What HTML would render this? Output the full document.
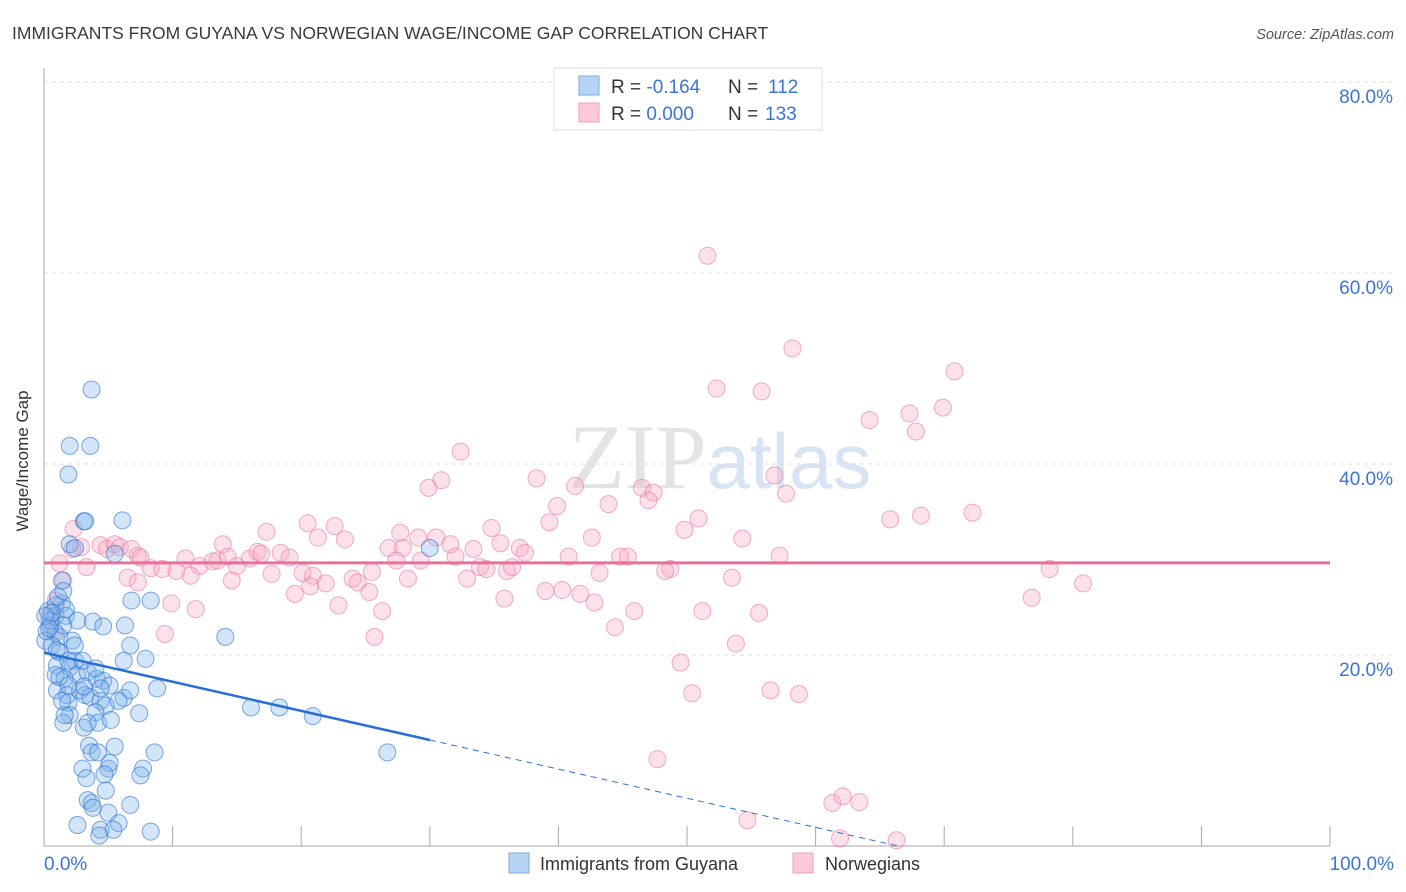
<!DOCTYPE html>
<html><head><meta charset="utf-8"><style>
body{margin:0;background:#fff;font-family:"Liberation Sans",sans-serif;}
svg{display:block}
</style></head><body>
<svg id="chart" width="1406" height="892" xmlns="http://www.w3.org/2000/svg">
<text x="12" y="39" font-size="17.5" fill="#3a3a3a">IMMIGRANTS FROM GUYANA VS NORWEGIAN WAGE/INCOME GAP CORRELATION CHART</text>
<text x="1394" y="39" font-size="14.5" font-style="italic" fill="#555" text-anchor="end">Source: ZipAtlas.com</text>
<text x="720" y="488" font-size="92" text-anchor="middle" fill="#e4e4e4" font-family="Liberation Serif,serif">ZIP<tspan fill="#d6e4f4" font-family="Liberation Sans,sans-serif" font-size="78">atlas</tspan></text>
<g id="grid"></g><g id="axes"></g><g id="pink"></g><g id="blue"></g><g id="trend"></g>
<text x="22" y="455" font-size="17" fill="#333" text-anchor="middle" transform="rotate(-90 28 455)">Wage/Income Gap</text>
<g>
<rect x="554" y="68" width="268" height="62" fill="#fff" stroke="#ddd"/>
<rect x="579" y="76" width="20" height="19" fill="#b8d4f5" stroke="#7aaae6"/>
<rect x="579" y="103" width="20" height="19" fill="#fbc9d7" stroke="#f0a0b8"/>
<text x="611" y="93" font-size="19" fill="#333">R = <tspan fill="#3a75d0">-0.164</tspan><tspan x="728">N = </tspan><tspan fill="#3a75d0" x="768">112</tspan></text>
<text x="611" y="120" font-size="19" fill="#333">R = <tspan fill="#3a75d0">0.000</tspan><tspan x="728">N = </tspan><tspan fill="#3a75d0" x="765">133</tspan></text>
</g>
<g>
<rect x="509" y="853" width="20" height="20" fill="#b8d4f5" stroke="#7aaae6"/>
<text x="540" y="870" font-size="18" fill="#333">Immigrants from Guyana</text>
<rect x="793" y="853" width="20" height="20" fill="#fbc9d7" stroke="#f0a0b8"/>
<text x="825" y="870" font-size="18" fill="#333">Norwegians</text>
</g>
</svg>
<script>
const blueX=[3.7,2.0,3.6,1.9,3.1,3.2,6.1,2.0,2.4,5.5,30.0,6.8,8.3,14.1,1.4,0.3,0.9,1.4,1.7,0.5,0.9,1.2,0.1,0.6,1.2,2.6,3.8,4.6,6.3,6.7,7.9,6.2,1.0,2.4,2.0,2.6,0.9,1.6,3.4,4.1,4.6,5.1,1.0,1.8,2.8,3.2,3.6,1.9,4.4,4.8,8.8,2.0,4.0,7.4,16.1,18.3,20.9,4.2,1.5,3.1,3.5,5.5,8.6,26.7,3.7,3.0,5.0,7.7,5.1,3.3,4.7,7.5,3.4,3.7,4.8,6.7,2.6,4.4,5.8,5.4,8.3,4.3,0.9,1.1,1.7,0.2,1.0,1.5,2.2,4.4,3.1,1.9,1.2,6.2,4.2,1.9,0.5,0.6,0.1,5.0,3.8,1.6,3.4,6.7,5.8,1.5,3.0,4.0,2.4,5.2,1.4,0.4];
const blueY=[47.8,41.9,41.9,38.9,34.0,34.0,34.1,31.6,31.2,30.6,31.2,25.7,25.7,21.9,27.8,24.6,24.1,25.4,24.1,23.1,22.3,21.9,21.5,21.0,20.3,23.6,23.5,23.0,23.1,21.0,19.6,19.4,18.9,19.4,18.7,17.9,17.9,17.5,18.2,17.5,17.3,16.8,16.3,15.8,16.3,15.8,15.6,15.0,15.2,14.7,16.5,13.7,14.0,13.9,14.5,14.5,13.6,12.9,12.9,12.4,10.5,10.4,9.8,9.8,9.8,8.1,8.1,8.1,8.7,7.1,7.5,7.4,4.8,4.5,5.8,4.3,2.2,1.7,2.4,1.7,1.5,1.1,25.2,26.1,24.8,22.5,20.5,23.1,21.5,16.5,16.7,19.4,17.7,15.5,9.8,16.8,23.6,24.4,24.1,3.5,4.0,13.7,12.9,16.3,15.2,26.7,19.4,18.6,21.0,13.2,15.2,22.8];
const pinkX=[51.6,58.2,70.8,52.3,55.8,69.9,67.3,64.2,67.8,32.4,56.8,38.3,30.9,29.9,41.3,46.5,47.4,57.7,47.0,39.9,43.9,50.9,65.8,68.2,72.2,20.5,22.6,39.3,34.8,49.8,2.3,17.3,2.9,4.4,4.9,5.5,5.9,6.8,13.9,21.3,23.4,27.7,29.1,30.5,31.6,33.4,35.5,37.0,37.4,42.6,54.3,26.8,27.9,1.2,2.2,3.3,7.3,7.5,8.3,9.2,10.3,11.0,12.1,13.1,13.5,14.3,15.0,16.0,16.6,16.9,18.4,19.1,20.9,21.9,24.0,25.5,27.4,29.3,32.0,33.9,34.4,36.0,40.8,44.8,45.4,48.7,48.3,57.2,1.5,6.5,7.3,11.4,14.6,17.7,20.1,24.4,25.3,28.3,32.9,36.4,39.0,40.3,41.7,43.2,53.5,78.2,80.8,76.8,19.5,20.7,9.9,11.8,22.9,26.3,35.8,42.8,45.9,51.2,55.6,9.4,25.7,44.4,53.8,49.5,50.4,56.5,58.7,47.7,61.3,62.1,63.4,54.7,61.9,66.3,0.9,0.4,0.8];
const pinkY=[61.8,52.1,49.7,47.9,47.6,45.9,45.3,44.6,43.4,41.3,38.8,38.5,38.3,37.5,37.7,37.5,37.0,36.9,36.2,35.6,35.8,34.3,34.2,34.6,34.9,33.8,33.5,33.9,33.3,33.1,33.2,32.9,31.3,31.5,31.1,31.6,31.3,31.1,31.6,32.3,32.1,32.8,32.3,32.3,31.6,31.1,31.7,31.2,30.7,32.3,32.2,31.2,31.2,29.6,31.1,29.2,30.4,30.2,29.1,29.0,28.8,30.1,29.3,29.8,29.9,30.3,29.3,30.1,30.8,30.6,30.7,30.2,28.3,27.5,28.0,28.7,29.9,29.9,30.3,29.2,29.0,28.8,30.3,30.3,30.3,29.0,28.8,30.4,27.8,28.1,27.6,28.3,27.8,28.5,28.6,27.6,26.6,28.0,28.0,29.2,26.7,26.8,26.4,28.6,28.1,29.0,27.5,26.0,26.4,27.2,25.4,24.8,25.2,24.6,25.9,25.5,24.6,24.6,24.4,22.2,21.9,22.9,21.2,19.2,16.0,16.3,15.9,9.1,4.5,5.2,4.6,2.7,0.8,0.6,25.7,24.0,22.5];
const yTicks=[20,40,60,80];
const xTickVals=[0,10,20,30,40,50,60,70,80,90,100];
const blueTrend=[20.25,-0.305]; // intercept, slope
const pinkTrend=29.65;
const NS="http://www.w3.org/2000/svg";
const X0=44,X1=1330,Y0=846,Y80=82;
const sx=v=>X0+(X1-X0)*v/100;
const sy=v=>Y0-(Y0-Y80)*v/80;
function mk(tag,attrs,parent){const e=document.createElementNS(NS,tag);for(const k in attrs)e.setAttribute(k,attrs[k]);parent.appendChild(e);return e;}
const grid=document.getElementById('grid'),axes=document.getElementById('axes');
yTicks.forEach(t=>{
  const l=mk('line',{x1:X0,x2:1394,y1:sy(t),y2:sy(t),stroke:'#ddd','stroke-dasharray':'4 4'},grid);
  
  
  const tx=mk('text',{x:1393,y:sy(t)+21,'font-size':19,fill:'#3a75d0','text-anchor':'end'},grid);
  tx.textContent=t.toFixed(1)+'%';
  
  
});
const ya=mk('line',{x1:X0,x2:X0,y1:68,y2:Y0,stroke:'#aaa'},axes);


const xa=mk('line',{x1:X0,x2:X1,y1:Y0,y2:Y0,stroke:'#aaa'},axes);


xTickVals.forEach(t=>{
  const l=mk('line',{x1:sx(t),x2:sx(t),y1:826,y2:Y0,stroke:'#aaa'},axes);
  
  
});
[[0,'0.0%','start',44],[100,'100.0%','end',1394]].forEach(([v,s,a,x])=>{
  const tx=mk('text',{x:x,y:870,'font-size':19,fill:'#3a75d0','text-anchor':a},axes);
  tx.textContent=s;
  
  
});
const pg=document.getElementById('pink'),bg=document.getElementById('blue');
pinkX.forEach((x,i)=>{
  const c=mk('circle',{cx:sx(x),cy:sy(pinkY[i]),r:8.5,fill:'rgba(248,170,195,0.35)',stroke:'rgba(235,120,155,0.6)','stroke-width':1},pg);
  
  
});
blueX.forEach((x,i)=>{
  const c=mk('circle',{cx:sx(x),cy:sy(blueY[i]),r:8.5,fill:'rgba(130,180,235,0.35)',stroke:'rgba(40,110,210,0.6)','stroke-width':1},bg);
  
  
});
const tg=document.getElementById('trend');
const pl=mk('line',{x1:sx(0),x2:sx(100),y1:sy(pinkTrend),y2:sy(pinkTrend),stroke:'#e8709a','stroke-width':3},tg);


const bf=v=>blueTrend[0]+blueTrend[1]*v;
const bl=mk('line',{x1:sx(0),x2:sx(30),y1:sy(bf(0)),y2:sy(bf(30)),stroke:'#2a6fd6','stroke-width':2.5},tg);


const xEnd=-blueTrend[0]/blueTrend[1];
const bd=mk('line',{x1:sx(30),x2:sx(xEnd),y1:sy(bf(30)),y2:sy(0),stroke:'#2a6fd6','stroke-width':1,'stroke-dasharray':'6 5'},tg);


</script>
</body></html>
